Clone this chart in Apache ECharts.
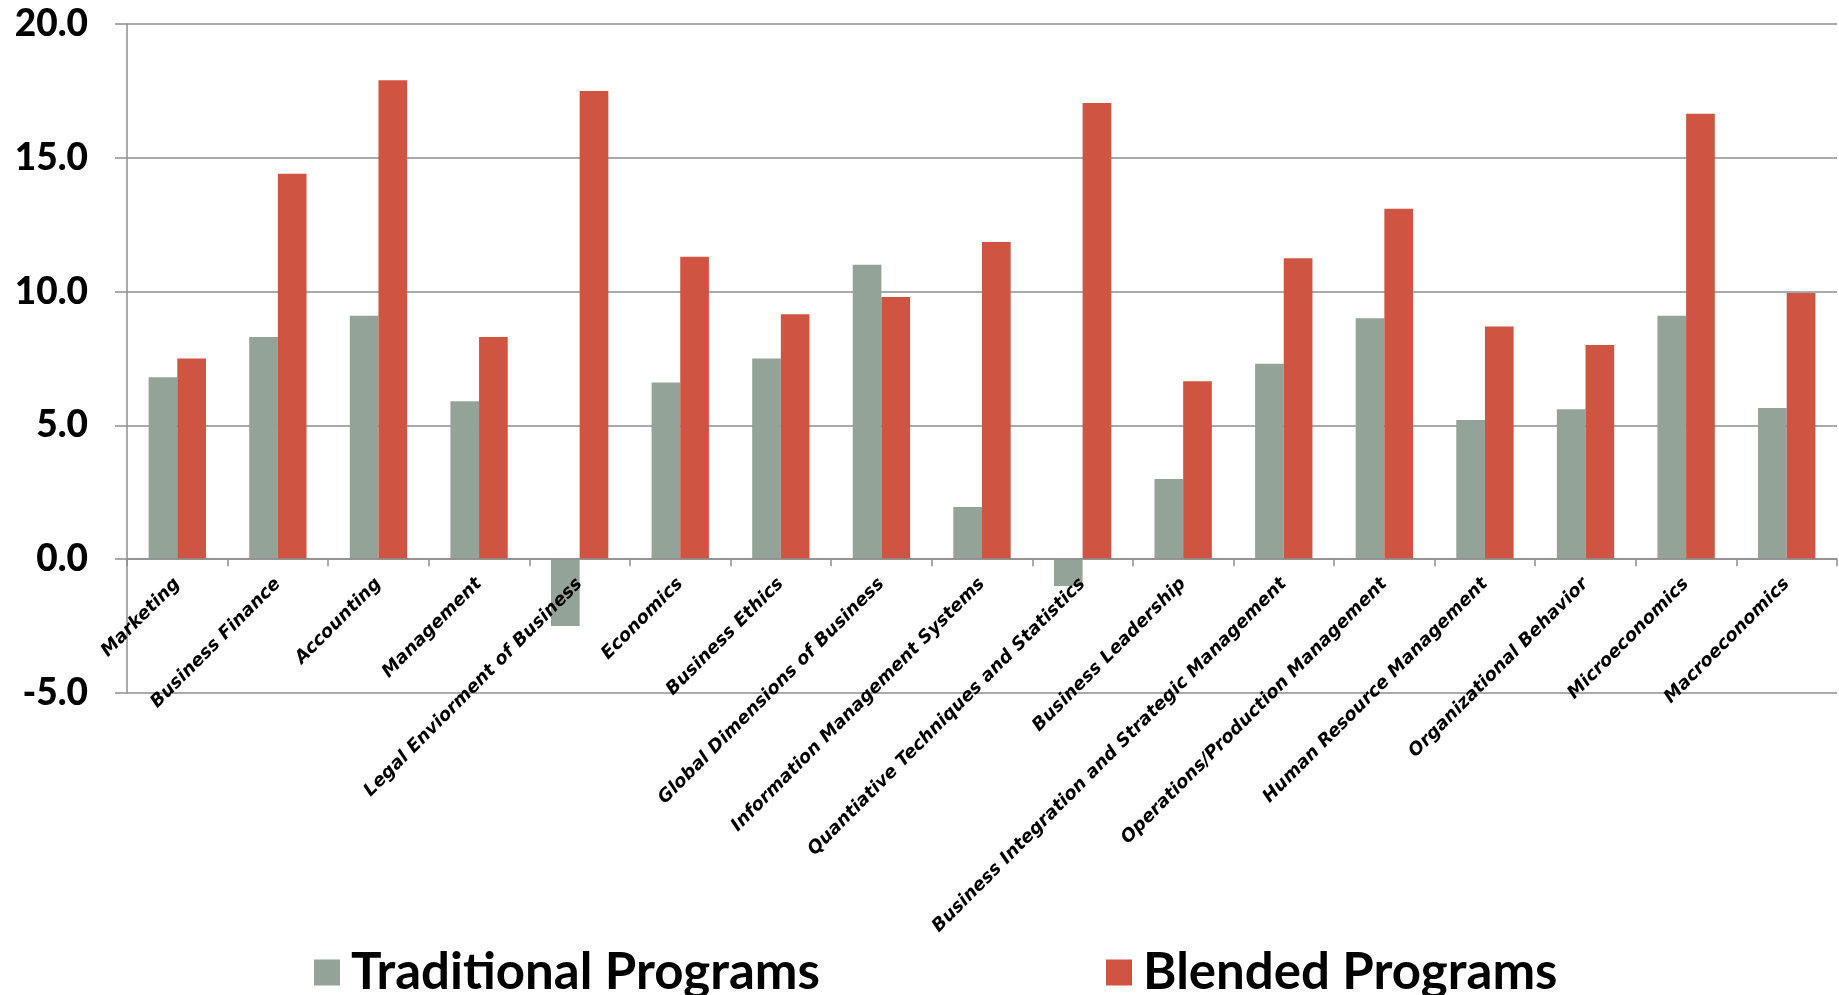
<!DOCTYPE html>
<html>
<head>
<meta charset="utf-8">
<title>Traditional vs Blended Programs</title>
<script src="https://cdn.jsdelivr.net/npm/echarts@6/dist/echarts.min.js"></script>
<style>
  html, body { margin: 0; padding: 0; background: #ffffff; }
  #chart { width: 1839px; height: 995px; }
</style>
</head>
<body>
<div id="chart"></div>
<script>
// Course categories along the x axis
const categories = [
  'Marketing',
  'Business Finance',
  'Accounting',
  'Management',
  'Legal Enviorment of Business',
  'Economics',
  'Business Ethics',
  'Global Dimensions of Business',
  'Information Management Systems',
  'Quantiative Techniques and Statistics',
  'Business Leadership',
  'Business Integration and Strategic Management',
  'Operations/Production Management',
  'Human Resource Management',
  'Organizational Behavior',
  'Microeconomics',
  'Macroeconomics'
];

// Series values
const traditionalPrograms = [6.8, 8.3, 9.1, 5.9, -2.5, 6.6, 7.5, 11.0, 1.95, -1.0, 3.0, 7.3, 9.0, 5.2, 5.6, 9.1, 5.65];
const blendedPrograms = [7.5, 14.4, 17.9, 8.3, 17.5, 11.3, 9.15, 9.8, 11.85, 17.05, 6.65, 11.25, 13.1, 8.7, 8.0, 16.65, 9.95];

// Value axis range
const yMin = -5;
const yMax = 20;
const yStep = 5;

const seriesNames = ['Traditional Programs', 'Blended Programs'];
const seriesColors = ['#94a398', '#cf5441'];

const gridColor = '#8e8e8e';
const numberFont = 'Lato, "Open Sans", "DejaVu Sans", sans-serif';
const categoryFont = '"DejaVu Sans", Verdana, sans-serif';

const legendText = {
  fontFamily: numberFont,
  fontWeight: 'bold',
  fontSize: 51,
  color: '#000',
  padding: [0, 0, 0, 6]
};

const chart = echarts.init(document.getElementById('chart'), null, { renderer: 'canvas' });

chart.setOption({
  animation: false,
  backgroundColor: '#ffffff',
  grid: { left: 127, right: 2, top: 24, bottom: 302, containLabel: false, outerBoundsMode: 'none' },
  legend: [
    {
      data: [seriesNames[0]],
      left: 309, top: 942,
      itemWidth: 26, itemHeight: 26,
      icon: 'rect',
      selectedMode: false,
      textStyle: legendText
    },
    {
      data: [seriesNames[1]],
      left: 1101, top: 942,
      itemWidth: 26, itemHeight: 26,
      icon: 'rect',
      selectedMode: false,
      textStyle: legendText
    }
  ],
  xAxis: {
    type: 'category',
    data: categories,
    boundaryGap: true,
    z: 5, // category labels sit on top of the negative bars
    axisLine: { show: true, onZero: false, lineStyle: { color: gridColor, width: 1.5 } },
    axisTick: { show: true, length: 7, inside: false, lineStyle: { color: gridColor, width: 1.5 } },
    axisLabel: {
      interval: 0,
      rotate: 45,
      margin: 22,
      fontFamily: categoryFont,
      fontWeight: 'bold',
      fontStyle: 'italic',
      fontSize: 18,
      color: '#000'
    },
    splitLine: { show: false }
  },
  yAxis: {
    type: 'value',
    min: yMin,
    max: yMax,
    interval: yStep,
    axisLine: { show: true, lineStyle: { color: gridColor, width: 1.5 } },
    axisTick: { show: true, length: 12, inside: false, lineStyle: { color: gridColor, width: 1.5 } },
    axisLabel: {
      margin: 39,
      fontFamily: numberFont,
      fontWeight: 900,
      fontSize: 37,
      color: '#000',
      formatter: v => v.toFixed(1)
    },
    splitLine: { show: true, lineStyle: { color: gridColor, width: 1.5 } }
  },
  series: [
    {
      name: seriesNames[0],
      type: 'bar',
      data: traditionalPrograms,
      barWidth: '28.5%',
      barGap: '0%',
      itemStyle: { color: seriesColors[0] }
    },
    {
      name: seriesNames[1],
      type: 'bar',
      data: blendedPrograms,
      barWidth: '28.5%',
      barGap: '0%',
      itemStyle: { color: seriesColors[1] }
    }
  ]
});

// Lift the category axis (line, ticks and labels) up to the zero line.
// Repeat once so the offset is measured on the settled layout.
for (let pass = 0; pass < 2; pass++) {
  const zeroY = chart.convertToPixel({ yAxisIndex: 0 }, 0);
  const bottomY = chart.convertToPixel({ yAxisIndex: 0 }, yMin);
  chart.setOption({ xAxis: { offset: zeroY - bottomY } });
}
</script>
</body>
</html>
